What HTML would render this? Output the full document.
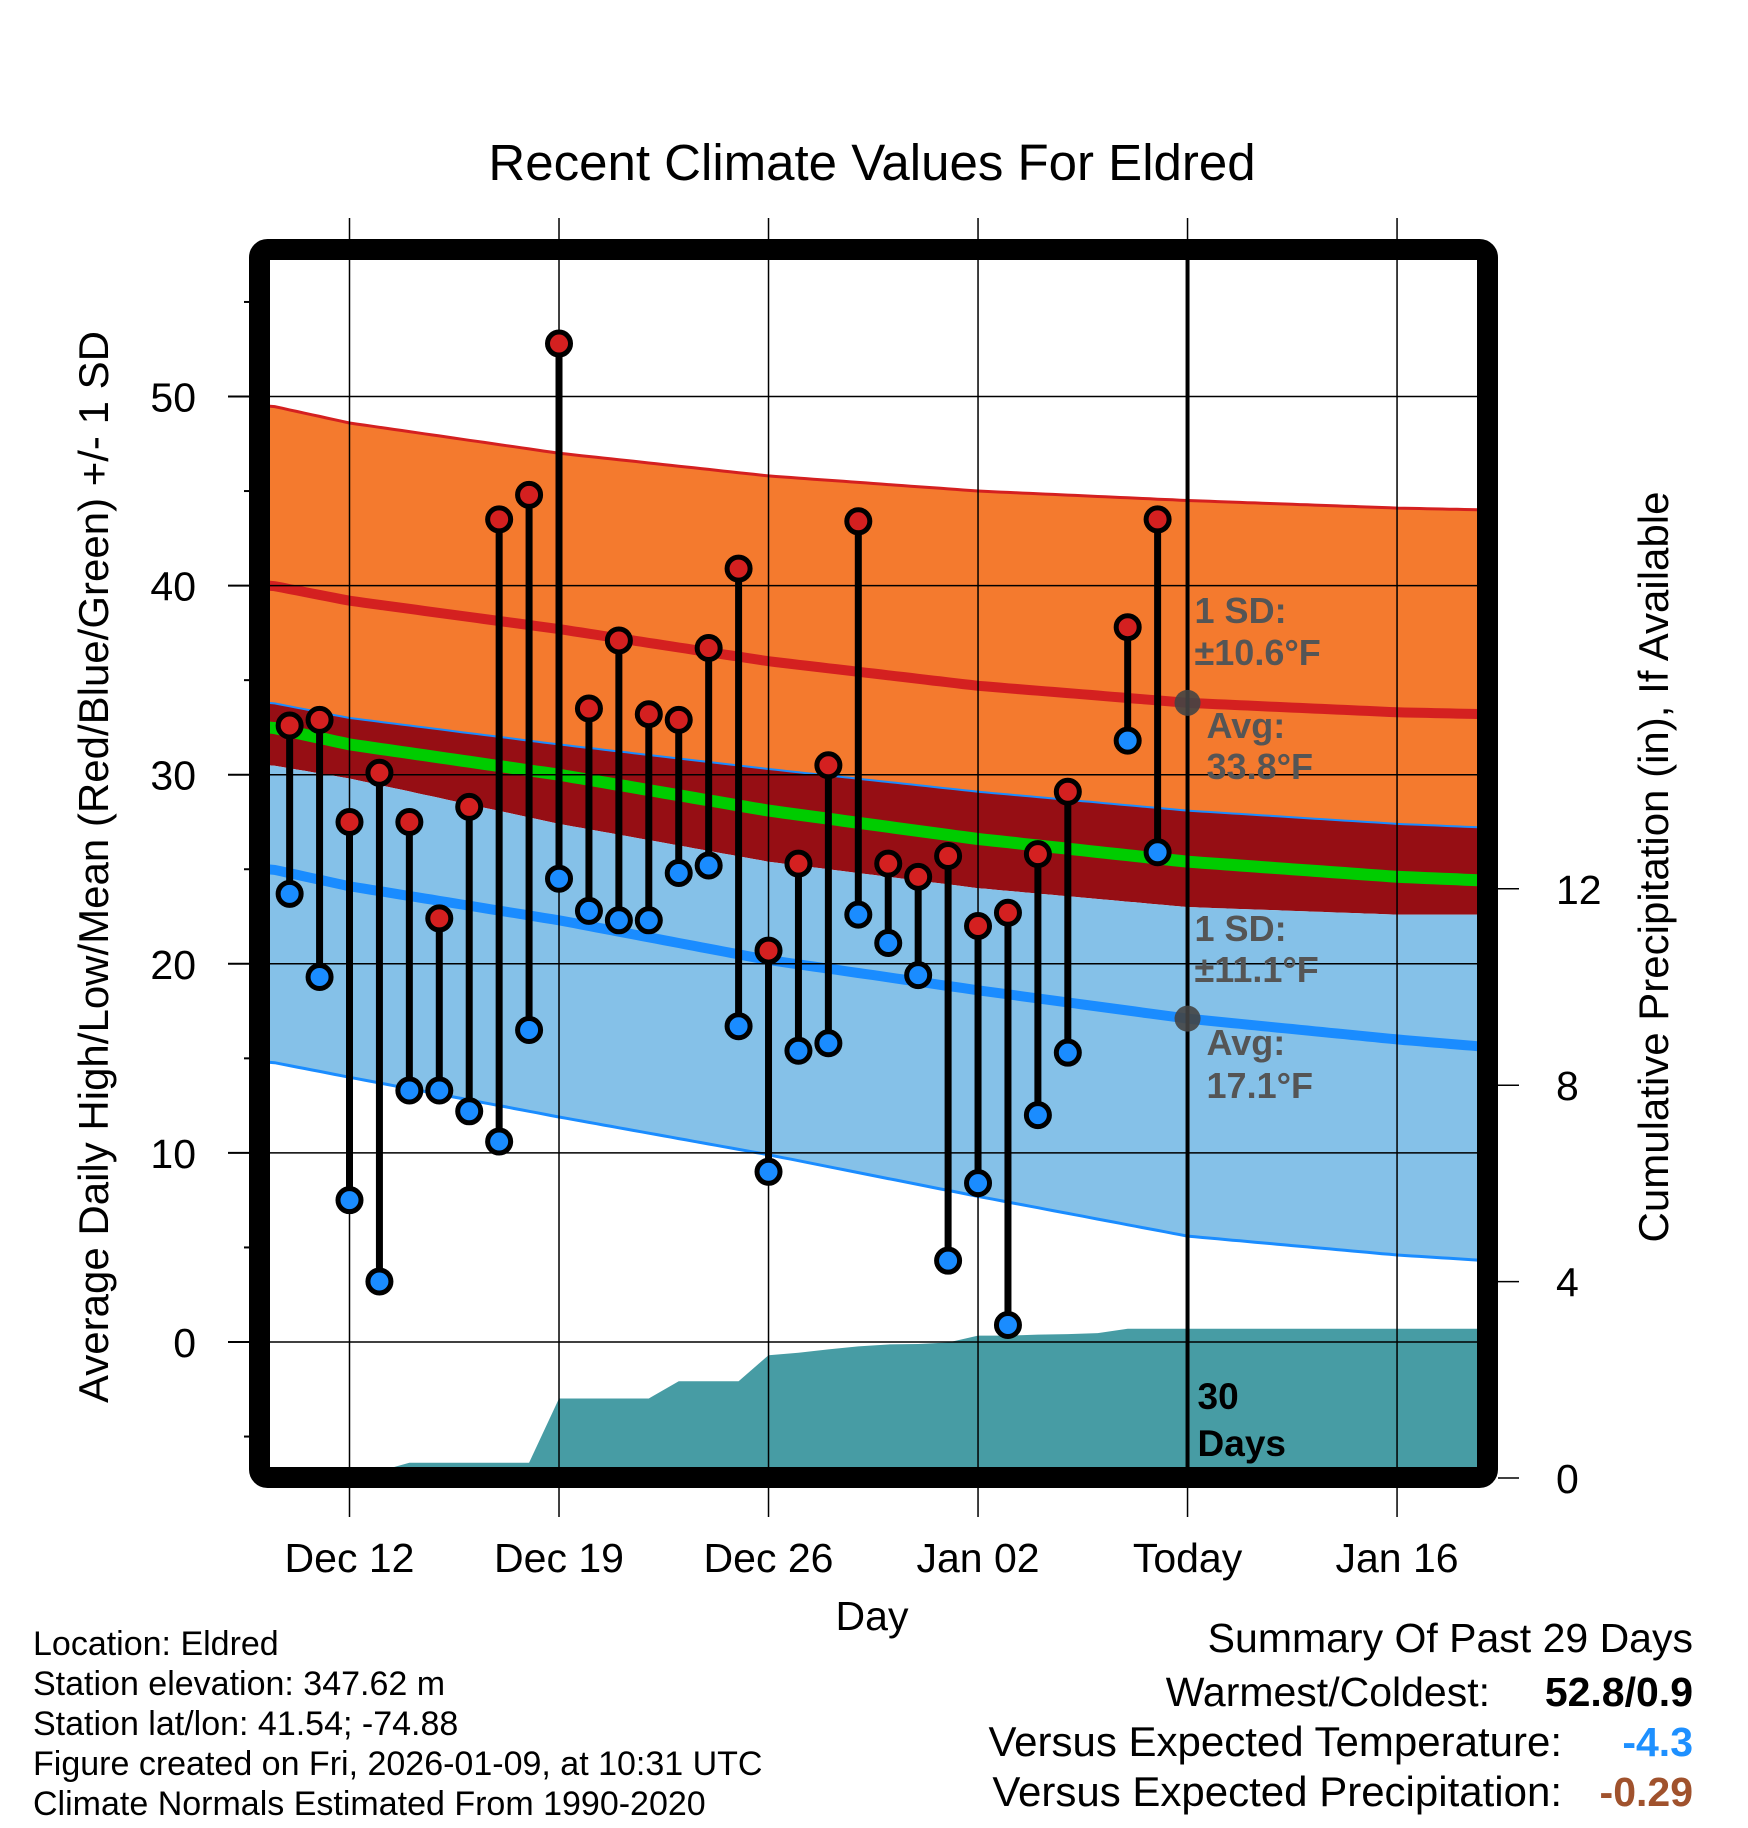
<!DOCTYPE html>
<html><head><meta charset="utf-8"><style>
html,body{margin:0;padding:0;background:#fff}
svg{display:block;font-family:"Liberation Sans",sans-serif}
</style></head><body>
<svg id="c" width="1748" height="1828" viewBox="0 0 1748 1828"></svg>
<script>
const highs=[32.6,32.9,27.5,30.1,27.5,22.4,28.3,43.5,44.8,52.8,33.5,37.1,33.2,32.9,36.7,40.9,20.7,25.3,30.5,43.4,25.3,24.6,25.7,22.0,22.7,25.8,29.1,null,37.8,43.5];
const lows=[23.7,19.3,7.5,3.2,13.3,13.3,12.2,10.6,16.5,24.5,22.8,22.3,22.3,24.8,25.2,16.7,9.0,15.4,15.8,22.6,21.1,19.4,4.3,8.4,0.9,12.0,15.3,null,31.8,25.9];
const precip=[0.14,0.14,0.14,0.14,0.31,0.31,0.31,0.31,0.31,1.62,1.62,1.62,1.62,1.97,1.97,1.97,2.50,2.55,2.62,2.68,2.72,2.73,2.76,2.90,2.90,2.92,2.93,2.95,3.04,3.04,3.04];
const knotDays=[-2.6,0,7,14,21,28,35,38];
const highUp=[49.5,48.6,47.0,45.8,45.0,44.5,44.1,44.0];
const highAvg=[40.0,39.2,37.7,36.0,34.7,33.8,33.3,33.2];
const highLo=[30.5,29.8,27.4,25.4,24.0,23.0,22.6,22.6];
const lowUp=[33.8,33.0,31.6,30.3,29.1,28.1,27.4,27.2];
const lowAvg=[25.0,24.1,22.3,20.2,18.6,17.1,16.0,15.6];
const lowLo=[14.8,14.0,11.9,9.9,7.7,5.6,4.6,4.3];
const meanT=[32.5,31.6,30.0,28.1,26.6,25.4,24.6,24.4];
const xTickDays=[0,7,14,21,28,35];
const xTickLabels=["Dec 12","Dec 19","Dec 26","Jan 02","Today","Jan 16"];
const yTicks=[0,10,20,30,40,50];
const pTicks=[0,4,8,12];
const firstDay=-2;

const NS="http://www.w3.org/2000/svg";
const svg=document.getElementById('c');
const L=270,R=1478,T=260,B=1468;
const X=d=>349.5+d*29.93;
const Y=v=>1342-v*18.91;
const P=v=>1478-v*49.1;
const dMin=-2.75,dMax=38;
function el(tag,attrs,parent){const e=document.createElementNS(NS,tag);for(const k in attrs)e.setAttribute(k,attrs[k]);(parent||svg).appendChild(e);return e;}
function interp(arr,d){if(d<knotDays[0])return arr[0];for(let i=0;i<knotDays.length-1;i++){if(d<=knotDays[i+1]){const t=(d-knotDays[i])/(knotDays[i+1]-knotDays[i]);return arr[i]+(arr[i+1]-arr[i])*t;}}return arr[arr.length-1];}
function curvePts(arr){const p=[];for(let d=dMin;d<=dMax+0.001;d+=0.25)p.push([X(d),Y(interp(arr,d))]);return p;}
function band(a,b){const pa=curvePts(a),pb=curvePts(b).reverse();return 'M'+pa.concat(pb).map(p=>p[0].toFixed(1)+','+p[1].toFixed(1)).join('L')+'Z';}
function line(a){return 'M'+curvePts(a).map(p=>p[0].toFixed(1)+','+p[1].toFixed(1)).join('L');}

el('rect',{x:0,y:0,width:1748,height:1828,fill:'#fff'});
const clip=el('clipPath',{id:'pc'});el('rect',{x:L,y:T,width:R-L,height:B-T},clip);
const g=el('g',{'clip-path':'url(#pc)'});


let b1=el('path',{d:band(highUp,lowUp),fill:'#F47A2E'},g);

let b2=el('path',{d:band(lowUp,highLo),fill:'#960E14'},g);

let b3=el('path',{d:band(highLo,lowLo),fill:'#85C1E8'},g);


let pp='M'+X(dMin)+','+B;
pp+='L'+X(dMin)+','+P(precip[0]);
precip.forEach((v,i)=>{pp+='L'+X(firstDay+i)+','+P(v);});
pp+='L'+X(dMax)+','+P(precip[precip.length-1])+'L'+X(dMax)+','+B+'Z';
let pa=el('path',{d:pp,fill:'#479CA4'},g);


yTicks.forEach(v=>{let gl=el('line',{x1:L,x2:R,y1:Y(v),y2:Y(v),stroke:'#000','stroke-width':1.5});
});
xTickDays.forEach(d=>{let gl=el('line',{x1:X(d),x2:X(d),y1:218,y2:1517,stroke:'#000','stroke-width':1.5});
});

const lines=[[highUp,'#D42020',3,'high-plus-sd-line'],[highAvg,'#D42020',10,'high-avg-line'],[lowUp,'#1A8CFF',2,'low-plus-sd-line'],[meanT,'#00CC00',12,'mean-line'],[lowAvg,'#1A8CFF',10,'low-avg-line'],[lowLo,'#1A8CFF',3,'low-minus-sd-line']];
lines.forEach(l=>{let p=el('path',{d:line(l[0]),fill:'none',stroke:l[1],'stroke-width':l[2]},g);
});

let tl=el('line',{x1:X(28),x2:X(28),y1:T,y2:B,stroke:'#000','stroke-width':4});

[highAvg,lowAvg].forEach(a=>{let c=el('circle',{cx:X(28),cy:Y(interp(a,28)),r:13,fill:'#444','fill-opacity':0.9});
});

highs.forEach((h,i)=>{if(h===null)return;const x=X(firstDay+i);
let s=el('line',{x1:x,x2:x,y1:Y(h),y2:Y(lows[i]),stroke:'#000','stroke-width':7});
});
highs.forEach((h,i)=>{if(h===null)return;const x=X(firstDay+i);
let c1=el('circle',{cx:x,cy:Y(h),r:11.5,fill:'#D42020',stroke:'#000','stroke-width':5});

let c2=el('circle',{cx:x,cy:Y(lows[i]),r:11.5,fill:'#1A8CFF',stroke:'#000','stroke-width':5});
});

let fr=el('rect',{x:259.5,y:249.5,width:1228,height:1228,rx:8,fill:'none',stroke:'#000','stroke-width':21});


for(let v=-5;v<=55;v+=5){const major=v%10===0;
let t=el('line',{x1:major?228:244,x2:250,y1:Y(v),y2:Y(v),stroke:'#000','stroke-width':2});
}
function txt(s,attrs,name){const t=el('text',attrs);t.textContent=s;return t;}
yTicks.forEach(v=>txt(String(v),{x:196,y:Y(v)+15,'font-size':41,'text-anchor':'end'},'y-tick-label'));
pTicks.forEach(v=>{let t=el('line',{x1:1498,x2:1519,y1:P(v),y2:P(v),stroke:'#000','stroke-width':1.5});

txt(String(v),{x:1556,y:P(v)+15,'font-size':41},'precip-tick-label');});
xTickDays.forEach((d,i)=>txt(xTickLabels[i],{x:X(d),y:1572,'font-size':41,'text-anchor':'middle'},'x-tick-label'));

txt('Recent Climate Values For Eldred',{x:872,y:180,'font-size':51,'text-anchor':'middle'},'chart-title');
txt('Day',{x:872,y:1630,'font-size':41,'text-anchor':'middle'},'x-axis-title');
txt('Average Daily High/Low/Mean (Red/Blue/Green) +/- 1 SD',{x:0,y:0,'font-size':42,'text-anchor':'middle',transform:'translate(108,867) rotate(-90)'},'y-axis-title');
txt('Cumulative Precipitation (in), If Available',{x:0,y:0,'font-size':42,'text-anchor':'middle',transform:'translate(1668,867) rotate(-90)'},'precip-axis-title');

const tx=X(28);
const ann=[['1 SD:',tx+7,623],['±10.6°F',tx+7,665],['Avg:',tx+19,738],['33.8°F',tx+19,779],['1 SD:',tx+7,941],['±11.1°F',tx+7,982],['Avg:',tx+19,1055],['17.1°F',tx+19,1098]];
ann.forEach(a=>txt(a[0],{x:a[1],y:a[2],'font-size':36,'font-weight':'bold',fill:'#555'},'sd-annotation'));
txt('30',{x:tx+10,y:1409,'font-size':37,'font-weight':'bold'},'days-annotation');
txt('Days',{x:tx+10,y:1456,'font-size':37,'font-weight':'bold'},'days-annotation');

const foot=['Location: Eldred','Station elevation: 347.62 m','Station lat/lon: 41.54; -74.88','Figure created on Fri, 2026-01-09, at 10:31 UTC','Climate Normals Estimated From 1990-2020'];
foot.forEach((s,i)=>txt(s,{x:33,y:1655+i*40,'font-size':34},'footer-info'));
txt('Summary Of Past 29 Days',{x:1693,y:1652,'font-size':41,'text-anchor':'end'},'summary-title');
txt('Warmest/Coldest:',{x:1490,y:1706,'font-size':41,'text-anchor':'end'},'summary-label');
txt('52.8/0.9',{x:1693,y:1706,'font-size':41,'font-weight':'bold','text-anchor':'end'},'summary-value');
txt('Versus Expected Temperature:',{x:1562,y:1756,'font-size':42,'text-anchor':'end'},'summary-label');
txt('-4.3',{x:1693,y:1756,'font-size':41,'font-weight':'bold','text-anchor':'end',fill:'#1E90FF'},'summary-value');
txt('Versus Expected Precipitation:',{x:1562,y:1806,'font-size':42,'text-anchor':'end'},'summary-label');
txt('-0.29',{x:1693,y:1806,'font-size':41,'font-weight':'bold','text-anchor':'end',fill:'#A0522D'},'summary-value');
</script>
</body></html>
